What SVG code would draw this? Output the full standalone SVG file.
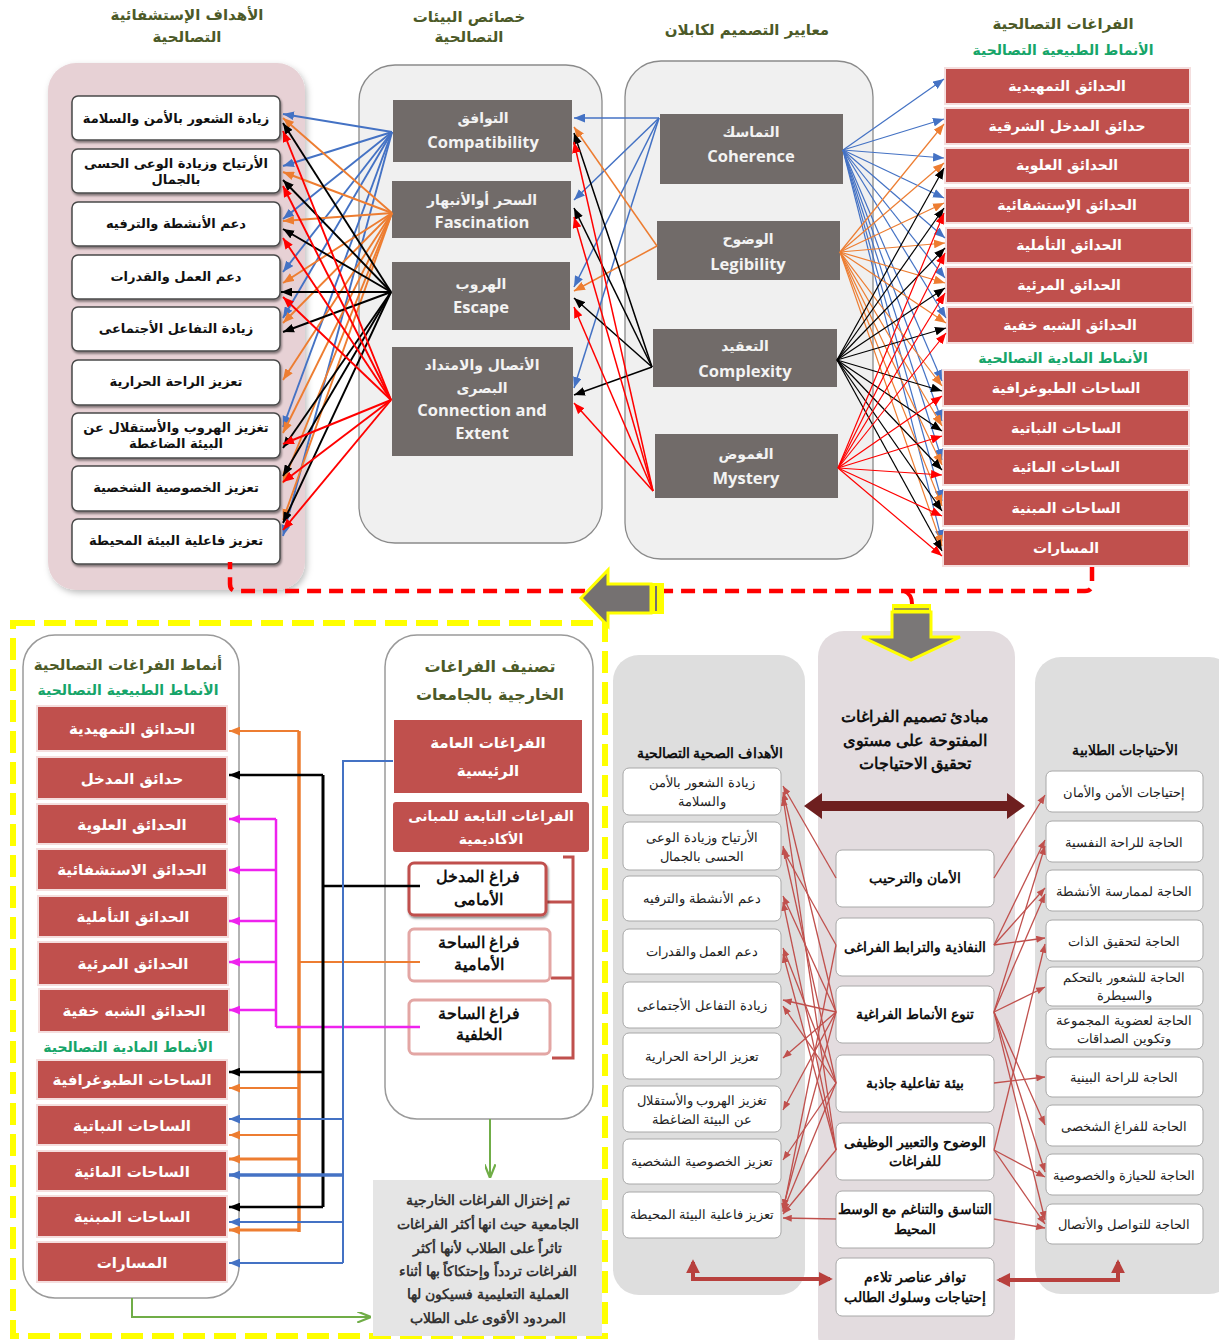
<svg xmlns="http://www.w3.org/2000/svg" width="1219" height="1340" viewBox="0 0 1219 1340">
<defs>
<style>
text{font-family:"DejaVu Sans",sans-serif;text-anchor:middle}
.hdr{font-size:14px;font-weight:bold;fill:#4c5a28}
.grn{font-size:14px;font-weight:bold;fill:#16a569}
.c1box{fill:#fff;stroke:#4a4a4a;stroke-width:1.5}
.c1t{font-size:13px;font-weight:bold;fill:#111}
.gbox{fill:#716b69}
.ga{font-size:14px;font-weight:bold;fill:#f3f3f3}
.ge{font-family:"Open Sans",sans-serif;font-size:16.5px;font-weight:bold;fill:#f3f3f3}
.rbox{fill:#c0504d;stroke:#f4dede;stroke-width:2}
.rt{font-size:14px;font-weight:bold;fill:#fff}
.rt2{font-size:15px;font-weight:bold;fill:#fff}
.wbox{fill:#fff;stroke:#a8a8a8;stroke-width:1}
.wt{font-family:"Liberation Sans",sans-serif;font-size:13px;fill:#222}
.wtb{font-family:"Liberation Sans",sans-serif;font-size:13.5px;font-weight:bold;fill:#111}
.bt{font-family:"Liberation Sans",sans-serif;font-size:15.5px;font-weight:bold;fill:#111}
.lb{stroke:#4472c4;marker-end:url(#ab)}
.lo{stroke:#ed7d31;marker-end:url(#ao)}
.lk{stroke:#000;marker-end:url(#ak)}
.lr{stroke:#ff0000;marker-end:url(#ar)}
.t1 line{stroke-width:1.9}
.t2 line{stroke-width:1.5}
.t3 line{stroke-width:1.2}
.br line{stroke:#c0504d;stroke-width:1.3;marker-end:url(#adr)}
</style>
<marker id="ab" viewBox="0 0 10 8" refX="10" refY="4" markerWidth="11" markerHeight="9" markerUnits="userSpaceOnUse" orient="auto"><path d="M0,0 L10,4 L0,8 z" fill="#4472c4"/></marker>
<marker id="ao" viewBox="0 0 10 8" refX="10" refY="4" markerWidth="11" markerHeight="9" markerUnits="userSpaceOnUse" orient="auto"><path d="M0,0 L10,4 L0,8 z" fill="#ed7d31"/></marker>
<marker id="ak" viewBox="0 0 10 8" refX="10" refY="4" markerWidth="11" markerHeight="9" markerUnits="userSpaceOnUse" orient="auto"><path d="M0,0 L10,4 L0,8 z" fill="#000"/></marker>
<marker id="ar" viewBox="0 0 10 8" refX="10" refY="4" markerWidth="11" markerHeight="9" markerUnits="userSpaceOnUse" orient="auto"><path d="M0,0 L10,4 L0,8 z" fill="#ff0000"/></marker>
<marker id="am" viewBox="0 0 10 8" refX="10" refY="4" markerWidth="11" markerHeight="9" markerUnits="userSpaceOnUse" orient="auto"><path d="M0,0 L10,4 L0,8 z" fill="#ee22ee"/></marker>
<marker id="ag" viewBox="0 0 10 8" refX="10" refY="4" markerWidth="14" markerHeight="11" markerUnits="userSpaceOnUse" orient="auto"><path d="M0,0 L10,4 L0,8" fill="none" stroke="#70ad47" stroke-width="1.6"/></marker>
<marker id="adr" viewBox="0 0 10 8" refX="10" refY="4" markerWidth="9" markerHeight="7" markerUnits="userSpaceOnUse" orient="auto"><path d="M0,0 L10,4 L0,8 z" fill="#c0504d"/></marker>
<marker id="abig" viewBox="0 0 10 10" refX="8" refY="5" markerWidth="14" markerHeight="14" markerUnits="userSpaceOnUse" orient="auto-start-reverse"><path d="M0,0 L10,5 L0,10 z" fill="#b8403d"/></marker>
<filter id="sh" x="-10%" y="-10%" width="120%" height="130%"><feDropShadow dx="1" dy="2" stdDeviation="1" flood-color="#000" flood-opacity="0.45"/></filter>
<filter id="sh2" x="-10%" y="-10%" width="120%" height="120%"><feDropShadow dx="2" dy="3" stdDeviation="3" flood-color="#000" flood-opacity="0.25"/></filter>
</defs>
<rect width="1219" height="1340" fill="#fff"/>

<!-- ================= TOP SECTION ================= -->
<g id="col1">
<text class="hdr" x="187" y="20" style="font-size:15px">الأهداف الإستشفائية</text>
<text class="hdr" x="187" y="42" style="font-size:15px">التصالحية</text>
<rect x="48" y="63" width="257" height="527" rx="28" fill="#e7d1d5" filter="url(#sh2)"/>
</g>
<g id="g1-1"><rect class="c1box" x="72" y="96" width="208" height="44" rx="6" filter="url(#sh)"/><text class="c1t" x="176" y="123">زيادة الشعور بالأمن والسلامة</text></g>
<g id="g1-2"><rect class="c1box" x="72" y="149" width="208" height="44" rx="6" filter="url(#sh)"/><text class="c1t" x="176" y="168">الأرتياح وزيادة الوعى الحسى</text><text class="c1t" x="176" y="184">بالجمال</text></g>
<g id="g1-3"><rect class="c1box" x="72" y="202" width="208" height="44" rx="6" filter="url(#sh)"/><text class="c1t" x="176" y="228">دعم الأنشطة والترفيه</text></g>
<g id="g1-4"><rect class="c1box" x="72" y="255" width="208" height="44" rx="6" filter="url(#sh)"/><text class="c1t" x="176" y="281">دعم العمل والقدرات</text></g>
<g id="g1-5"><rect class="c1box" x="72" y="307" width="208" height="44" rx="6" filter="url(#sh)"/><text class="c1t" x="176" y="333">زيادة التفاعل الأجتماعى</text></g>
<g id="g1-6"><rect class="c1box" x="72" y="360" width="208" height="45" rx="6" filter="url(#sh)"/><text class="c1t" x="176" y="386">تعزيز الراحة الحرارية</text></g>
<g id="g1-7"><rect class="c1box" x="72" y="413" width="208" height="45" rx="6" filter="url(#sh)"/><text class="c1t" x="176" y="432">تغزيز الهروب والأستقلال عن</text><text class="c1t" x="176" y="448">البيئة الضاغطة</text></g>
<g id="g1-8"><rect class="c1box" x="72" y="466" width="208" height="45" rx="6" filter="url(#sh)"/><text class="c1t" x="176" y="492">تعزيز الخصوصية الشخصية</text></g>
<g id="g1-9"><rect class="c1box" x="72" y="519" width="208" height="45" rx="6" filter="url(#sh)"/><text class="c1t" x="176" y="545">تعزيز فاعلية البيئة المحيطة</text></g>

<g id="col2">
<text class="hdr" x="469" y="22" style="font-size:15px">خصائص البيئات</text>
<text class="hdr" x="469" y="42" style="font-size:15px">التصالحية</text>
<rect x="359" y="65" width="243" height="478" rx="36" fill="#f0f0f0" stroke="#8a8a8a" stroke-width="1.3"/>
</g>
<g id="g2-1"><rect class="gbox" x="393" y="100" width="179" height="62"/><text class="ga" x="483" y="123">التوافق</text><text class="ge" x="483" y="148">Compatibility</text></g>
<g id="g2-2"><rect class="gbox" x="392" y="181" width="179" height="57"/><text class="ga" x="482" y="205">السحر أوالأنبهار</text><text class="ge" x="482" y="228">Fascination</text></g>
<g id="g2-3"><rect class="gbox" x="392" y="262" width="178" height="68"/><text class="ga" x="481" y="289">الهروب</text><text class="ge" x="481" y="313">Escape</text></g>
<g id="g2-4"><rect class="gbox" x="392" y="347" width="181" height="109"/><text class="ga" x="482" y="370">الأتصال والامتداد</text><text class="ga" x="482" y="393">البصرى</text><text class="ge" x="482" y="416">Connection and</text><text class="ge" x="482" y="439">Extent</text></g>

<g id="col3">
<text class="hdr" x="747" y="35" style="font-size:15px">معايير التصميم لكابلان</text>
<rect x="625" y="61" width="248" height="498" rx="36" fill="#f0f0f0" stroke="#8a8a8a" stroke-width="1.3"/>
</g>
<g id="g3-1"><rect class="gbox" x="660" y="114" width="183" height="70"/><text class="ga" x="751" y="137">التماسك</text><text class="ge" x="751" y="162">Coherence</text></g>
<g id="g3-2"><rect class="gbox" x="657" y="221" width="183" height="59"/><text class="ga" x="748" y="244">الوضوح</text><text class="ge" x="748" y="270">Legibility</text></g>
<g id="g3-3"><rect class="gbox" x="653" y="329" width="184" height="58"/><text class="ga" x="745" y="351">التعقيد</text><text class="ge" x="745" y="377">Complexity</text></g>
<g id="g3-4"><rect class="gbox" x="655" y="434" width="183" height="64"/><text class="ga" x="746" y="459">الغموض</text><text class="ge" x="746" y="484">Mystery</text></g>

<g id="col4">
<text class="hdr" x="1063" y="29" style="font-size:15px">الفراغات التصالحية</text>
<text class="grn" x="1063" y="55">الأنماط الطبيعية التصالحية</text>
<text class="grn" x="1063" y="363">الأنماط المادية التصالحية</text>
</g>
<g id="g4-1"><rect class="rbox" x="945" y="68" width="245" height="36"/><text class="rt" x="1067" y="91">الحدائق التمهيدية</text></g>
<g id="g4-2"><rect class="rbox" x="945" y="108" width="245" height="36"/><text class="rt" x="1067" y="131">حدائق المدخل الشرقية</text></g>
<g id="g4-3"><rect class="rbox" x="945" y="148" width="245" height="35"/><text class="rt" x="1067" y="170">الحدائق العلوية</text></g>
<g id="g4-4"><rect class="rbox" x="945" y="188" width="245" height="35"/><text class="rt" x="1067" y="210">الحدائق الإستشفائية</text></g>
<g id="g4-5"><rect class="rbox" x="946" y="228" width="246" height="35"/><text class="rt" x="1069" y="250">الحدائق التأملية</text></g>
<g id="g4-6"><rect class="rbox" x="946" y="267" width="246" height="36"/><text class="rt" x="1069" y="290">الحدائق المرئية</text></g>
<g id="g4-7"><rect class="rbox" x="947" y="307" width="246" height="36"/><text class="rt" x="1070" y="330">الحدائق الشبه خفية</text></g>
<g id="g4-8"><rect class="rbox" x="943" y="370" width="246" height="36"/><text class="rt" x="1066" y="393">الساحات الطبوغرافية</text></g>
<g id="g4-9"><rect class="rbox" x="943" y="410" width="246" height="36"/><text class="rt" x="1066" y="433">الساحات النباتية</text></g>
<g id="g4-10"><rect class="rbox" x="943" y="449" width="246" height="36"/><text class="rt" x="1066" y="472">الساحات المائية</text></g>
<g id="g4-11"><rect class="rbox" x="943" y="490" width="246" height="36"/><text class="rt" x="1066" y="513">الساحات المبنية</text></g>
<g id="g4-12"><rect class="rbox" x="943" y="530" width="246" height="36"/><text class="rt" x="1066" y="553">المسارات</text></g>

<g id="connectors-top">
<g class="t1">
<line class="lb" x1="392" y1="132" x2="283" y2="114"/>
<line class="lb" x1="392" y1="132" x2="283" y2="166"/>
<line class="lb" x1="392" y1="132" x2="283" y2="219"/>
<line class="lb" x1="392" y1="132" x2="283" y2="272"/>
<line class="lb" x1="392" y1="132" x2="283" y2="318"/>
<line class="lb" x1="392" y1="132" x2="283" y2="427"/>
<line class="lb" x1="392" y1="132" x2="283" y2="536"/>
<line class="lo" x1="392" y1="213" x2="283" y2="118"/>
<line class="lo" x1="392" y1="213" x2="283" y2="172"/>
<line class="lo" x1="392" y1="213" x2="283" y2="221"/>
<line class="lo" x1="392" y1="213" x2="283" y2="283"/>
<line class="lo" x1="392" y1="213" x2="283" y2="323"/>
<line class="lo" x1="392" y1="213" x2="283" y2="380"/>
<line class="lo" x1="392" y1="213" x2="283" y2="433"/>
<line class="lo" x1="392" y1="213" x2="283" y2="483"/>
<line class="lo" x1="392" y1="213" x2="283" y2="520"/>
<line class="lk" x1="391" y1="292" x2="283" y2="123"/>
<line class="lk" x1="391" y1="292" x2="283" y2="180"/>
<line class="lk" x1="391" y1="292" x2="283" y2="229"/>
<line class="lk" x1="391" y1="292" x2="281" y2="292"/>
<line class="lk" x1="391" y1="292" x2="283" y2="332"/>
<line class="lk" x1="391" y1="292" x2="283" y2="448"/>
<line class="lk" x1="391" y1="292" x2="283" y2="476"/>
<line class="lk" x1="391" y1="292" x2="283" y2="523"/>
<line class="lr" x1="391" y1="400" x2="283" y2="131"/>
<line class="lr" x1="391" y1="400" x2="283" y2="186"/>
<line class="lr" x1="391" y1="400" x2="283" y2="238"/>
<line class="lr" x1="391" y1="400" x2="283" y2="297"/>
<line class="lr" x1="391" y1="400" x2="283" y2="444"/>
<line class="lr" x1="391" y1="400" x2="283" y2="482"/>
<line class="lr" x1="391" y1="400" x2="283" y2="530"/>
</g>
<g class="t2">
<line class="lb" x1="659" y1="118" x2="574" y2="118"/>
<line class="lb" x1="659" y1="118" x2="574" y2="200"/>
<line class="lb" x1="659" y1="118" x2="574" y2="287"/>
<line class="lb" x1="659" y1="118" x2="574" y2="388"/>
<line class="lo" x1="657" y1="246" x2="574" y2="127"/>
<line class="lo" x1="657" y1="246" x2="574" y2="291"/>
<line class="lk" x1="652" y1="367" x2="574" y2="133"/>
<line class="lk" x1="652" y1="367" x2="574" y2="208"/>
<line class="lk" x1="652" y1="367" x2="574" y2="298"/>
<line class="lk" x1="652" y1="367" x2="574" y2="395"/>
<line class="lr" x1="653" y1="491" x2="574" y2="142"/>
<line class="lr" x1="653" y1="491" x2="574" y2="217"/>
<line class="lr" x1="653" y1="491" x2="574" y2="307"/>
<line class="lr" x1="653" y1="491" x2="574" y2="403"/>
</g>
<g class="t3">
<line class="lb" x1="843" y1="150" x2="944" y2="79"/>
<line class="lb" x1="843" y1="150" x2="944" y2="119"/>
<line class="lb" x1="843" y1="150" x2="944" y2="158"/>
<line class="lb" x1="843" y1="150" x2="944" y2="198"/>
<line class="lb" x1="843" y1="150" x2="945" y2="238"/>
<line class="lb" x1="843" y1="150" x2="945" y2="278"/>
<line class="lb" x1="843" y1="150" x2="946" y2="318"/>
<line class="lb" x1="843" y1="150" x2="942" y2="381"/>
<line class="lb" x1="843" y1="150" x2="942" y2="421"/>
<line class="lb" x1="843" y1="150" x2="942" y2="460"/>
<line class="lb" x1="843" y1="150" x2="942" y2="501"/>
<line class="lb" x1="843" y1="150" x2="942" y2="541"/>
<line class="lo" x1="840" y1="252" x2="944" y2="124"/>
<line class="lo" x1="840" y1="252" x2="944" y2="163"/>
<line class="lo" x1="840" y1="252" x2="944" y2="203"/>
<line class="lo" x1="840" y1="252" x2="945" y2="243"/>
<line class="lo" x1="840" y1="252" x2="945" y2="283"/>
<line class="lo" x1="840" y1="252" x2="946" y2="323"/>
<line class="lo" x1="840" y1="252" x2="942" y2="386"/>
<line class="lo" x1="840" y1="252" x2="942" y2="426"/>
<line class="lo" x1="840" y1="252" x2="942" y2="465"/>
<line class="lo" x1="840" y1="252" x2="942" y2="506"/>
<line class="lo" x1="840" y1="252" x2="942" y2="546"/>
<line class="lk" x1="837" y1="360" x2="944" y2="168"/>
<line class="lk" x1="837" y1="360" x2="944" y2="208"/>
<line class="lk" x1="837" y1="360" x2="945" y2="248"/>
<line class="lk" x1="837" y1="360" x2="945" y2="288"/>
<line class="lk" x1="837" y1="360" x2="946" y2="328"/>
<line class="lk" x1="837" y1="360" x2="942" y2="391"/>
<line class="lk" x1="837" y1="360" x2="942" y2="431"/>
<line class="lk" x1="837" y1="360" x2="942" y2="470"/>
<line class="lk" x1="837" y1="360" x2="942" y2="511"/>
<line class="lk" x1="837" y1="360" x2="942" y2="551"/>
<line class="lr" x1="838" y1="468" x2="944" y2="213"/>
<line class="lr" x1="838" y1="468" x2="945" y2="253"/>
<line class="lr" x1="838" y1="468" x2="945" y2="293"/>
<line class="lr" x1="838" y1="468" x2="946" y2="333"/>
<line class="lr" x1="838" y1="468" x2="942" y2="396"/>
<line class="lr" x1="838" y1="468" x2="942" y2="436"/>
<line class="lr" x1="838" y1="468" x2="942" y2="475"/>
<line class="lr" x1="838" y1="468" x2="942" y2="516"/>
<line class="lr" x1="838" y1="468" x2="942" y2="556"/>
</g>
</g>

<!-- ================ BOTTOM LEFT ================ -->
<rect id="yellow-frame" x="13" y="623" width="592" height="713" fill="none" stroke="#ffff00" stroke-width="6" stroke-dasharray="22 9"/>
<g id="colA">
<rect x="23" y="635" width="216" height="663" rx="32" fill="#fff" stroke="#9a9a9a" stroke-width="1.5"/>
<text class="hdr" x="128" y="670" style="font-size:15px">أنماط الفراغات التصالحية</text>
<text class="grn" x="128" y="695">الأنماط الطبيعية التصالحية</text>
<text class="grn" x="128" y="1052">الأنماط المادية التصالحية</text>
</g>
<g id="a1"><rect class="rbox" x="37" y="706" width="190" height="45"/><text class="rt2" x="132" y="734">الحدائق التمهيدية</text></g>
<g id="a2"><rect class="rbox" x="37" y="757" width="190" height="42"/><text class="rt2" x="132" y="784">حدائق المدخل</text></g>
<g id="a3"><rect class="rbox" x="37" y="804" width="190" height="40"/><text class="rt2" x="132" y="830">الحدائق العلوية</text></g>
<g id="a4"><rect class="rbox" x="37" y="849" width="190" height="41"/><text class="rt2" x="132" y="875">الحدائق الاستشفائية</text></g>
<g id="a5"><rect class="rbox" x="38" y="896" width="190" height="41"/><text class="rt2" x="133" y="922">الحدائق التأملية</text></g>
<g id="a6"><rect class="rbox" x="38" y="942" width="190" height="43"/><text class="rt2" x="133" y="969">الحدائق المرئية</text></g>
<g id="a7"><rect class="rbox" x="39" y="989" width="190" height="43"/><text class="rt2" x="134" y="1016">الحدائق الشبه خفية</text></g>
<g id="a8"><rect class="rbox" x="37" y="1060" width="190" height="39"/><text class="rt2" x="132" y="1085">الساحات الطبوغرافية</text></g>
<g id="a9"><rect class="rbox" x="37" y="1105" width="190" height="40"/><text class="rt2" x="132" y="1131">الساحات النباتية</text></g>
<g id="a10"><rect class="rbox" x="37" y="1151" width="190" height="40"/><text class="rt2" x="132" y="1177">الساحات المائية</text></g>
<g id="a11"><rect class="rbox" x="37" y="1196" width="190" height="41"/><text class="rt2" x="132" y="1222">الساحات المبنية</text></g>
<g id="a12"><rect class="rbox" x="37" y="1242" width="190" height="40"/><text class="rt2" x="132" y="1268">المسارات</text></g>

<g id="colB">
<rect x="385" y="635" width="208" height="484" rx="32" fill="#fff" stroke="#9a9a9a" stroke-width="1.5"/>
<text class="hdr" x="490" y="672" style="font-size:16px">تصنيف الفراغات</text>
<text class="hdr" x="490" y="700" style="font-size:16px">الخارجية بالجامعات</text>
<path d="M563,857 L573,857 L573,1058 L552,1058 M546,902 L573,902 M551,978 L573,978" fill="none" stroke="#c0504d" stroke-width="3"/>
</g>
<g id="b1"><rect x="394" y="720" width="188" height="73" fill="#c0504d"/><text class="rt2" x="488" y="748">الفراغات العامة</text><text class="rt2" x="488" y="776">الرئيسية</text></g>
<g id="b2"><rect x="393" y="802" width="196" height="50" rx="3" fill="#c0504d"/><text class="rt" x="491" y="821">الفراغات التابعة للمبانى</text><text class="rt" x="491" y="844">الأكاديمية</text></g>
<g id="b3"><rect x="409" y="863" width="137" height="52" rx="5" fill="#fff" stroke="#c0504d" stroke-width="3" filter="url(#sh)"/><text class="bt" x="478" y="882">فراغ المدخل</text><text class="bt" x="478" y="905">الأمامى</text></g>
<g id="b4"><rect x="409" y="929" width="141" height="52" rx="5" fill="#fff" stroke="#e3a6a4" stroke-width="3"/><text class="bt" x="479" y="948">فراغ الساحة</text><text class="bt" x="479" y="970">الأمامية</text></g>
<g id="b5"><rect x="409" y="1000" width="141" height="54" rx="5" fill="#fff" stroke="#e3a6a4" stroke-width="3"/><text class="bt" x="479" y="1019">فراغ الساحة</text><text class="bt" x="479" y="1040">الخلفية</text></g>
<g id="note"><rect x="373" y="1180" width="229" height="156" fill="#e5e5e5"/>
<text class="wtb" x="488" y="1205" style="fill:#333">تم إختزال الفراغات الخارجية</text>
<text class="wtb" x="488" y="1229" style="fill:#333">الجامعية حيث انها أكثر الفراغات</text>
<text class="wtb" x="488" y="1253" style="fill:#333">تاثراً على الطلاب لأنها أكثر</text>
<text class="wtb" x="488" y="1276" style="fill:#333">الفراغات تردداً وإحتكاكاً بها أثناء</text>
<text class="wtb" x="488" y="1299" style="fill:#333">العملية التعليمية فسيكون لها</text>
<text class="wtb" x="488" y="1323" style="fill:#333">المردود الأقوى على الطلاب</text>
</g>

<g id="connectors-bottom-left" fill="none">
<line x1="299" y1="731" x2="299" y2="1232" stroke="#ed7d31" stroke-width="3.5"/>
<line x1="299" y1="731" x2="229" y2="731" stroke="#ed7d31" stroke-width="2" marker-end="url(#ao)"/>
<line x1="299" y1="1088" x2="229" y2="1088" stroke="#ed7d31" stroke-width="2" marker-end="url(#ao)"/>
<line x1="299" y1="1135" x2="229" y2="1135" stroke="#ed7d31" stroke-width="2" marker-end="url(#ao)"/>
<line x1="299" y1="1159" x2="229" y2="1159" stroke="#ed7d31" stroke-width="3" marker-end="url(#ao)"/>
<line x1="299" y1="1230" x2="229" y2="1230" stroke="#ed7d31" stroke-width="3" marker-end="url(#ao)"/>
<line x1="299" y1="962" x2="420" y2="962" stroke="#ed7d31" stroke-width="2"/>
<line x1="276" y1="819" x2="276" y2="1027" stroke="#ee22ee" stroke-width="2.5"/>
<line x1="276" y1="819" x2="229" y2="819" stroke="#ee22ee" stroke-width="2.5" marker-end="url(#am)"/>
<line x1="276" y1="870" x2="229" y2="870" stroke="#ee22ee" stroke-width="2.5" marker-end="url(#am)"/>
<line x1="276" y1="921" x2="229" y2="921" stroke="#ee22ee" stroke-width="2.5" marker-end="url(#am)"/>
<line x1="276" y1="962" x2="229" y2="962" stroke="#ee22ee" stroke-width="2.5" marker-end="url(#am)"/>
<line x1="276" y1="1010" x2="229" y2="1010" stroke="#ee22ee" stroke-width="2.5" marker-end="url(#am)"/>
<line x1="276" y1="1027" x2="420" y2="1027" stroke="#ee22ee" stroke-width="2.5"/>
<line x1="323" y1="775" x2="323" y2="1207" stroke="#000" stroke-width="3"/>
<line x1="323" y1="775" x2="229" y2="775" stroke="#000" stroke-width="2.5" marker-end="url(#ak)"/>
<line x1="323" y1="1072" x2="229" y2="1072" stroke="#000" stroke-width="2.5" marker-end="url(#ak)"/>
<line x1="323" y1="1207" x2="229" y2="1207" stroke="#000" stroke-width="2.5" marker-end="url(#ak)"/>
<line x1="323" y1="886" x2="420" y2="886" stroke="#000" stroke-width="2.5"/>
<path d="M393,761 L343,761 L343,1263" stroke="#4472c4" stroke-width="2"/>
<line x1="343" y1="1119" x2="229" y2="1119" stroke="#4472c4" stroke-width="2" marker-end="url(#ab)"/>
<line x1="343" y1="1175" x2="229" y2="1175" stroke="#4472c4" stroke-width="3.5" marker-end="url(#ab)"/>
<line x1="343" y1="1222" x2="229" y2="1222" stroke="#4472c4" stroke-width="2" marker-end="url(#ab)"/>
<line x1="343" y1="1263" x2="229" y2="1263" stroke="#4472c4" stroke-width="2" marker-end="url(#ab)"/>
<line x1="490" y1="1119" x2="490" y2="1178" stroke="#70ad47" stroke-width="2" marker-end="url(#ag)"/>
<path d="M132,1298 L132,1317 L371,1317" stroke="#70ad47" stroke-width="2" marker-end="url(#ag)"/>
</g>

<!-- ================ BOTTOM RIGHT ================ -->
<g id="panel-goals"><rect x="613" y="655" width="192" height="640" rx="26" fill="#dedede"/>
<text class="wtb" x="710" y="758" style="font-size:14px">الأهداف الصحية التصالحية</text></g>
<g id="panel-principles"><rect x="818" y="631" width="197" height="730" rx="26" fill="#e3dcdf"/>
<text class="wtb" x="915" y="722" style="font-size:16px">مبادئ تصميم الفراغات</text>
<text class="wtb" x="915" y="746" style="font-size:16px">المفتوحة على مستوى</text>
<text class="wtb" x="915" y="769" style="font-size:16px">تحقيق الاحتياجات</text></g>
<g id="panel-needs"><rect x="1035" y="657" width="200" height="637" rx="26" fill="#dedede"/>
<text class="wtb" x="1125" y="755" style="font-size:14px">الأحتياجات الطلابية</text></g>

<g id="bigarrow"><polygon points="804,806 822,793 822,801 1007,801 1007,793 1025,806 1007,819 1007,811 822,811 822,819" fill="#6e1f1f"/></g>

<g id="l1"><rect class="wbox" x="623" y="768" width="158" height="47" rx="6"/><text class="wt" x="702" y="787">زيادة الشعور بالأمن</text><text class="wt" x="702" y="806">والسلامة</text></g>
<g id="l2"><rect class="wbox" x="623" y="822" width="158" height="48" rx="6"/><text class="wt" x="702" y="842">الأرتياح وزيادة الوعى</text><text class="wt" x="702" y="861">الحسى بالجمال</text></g>
<g id="l3"><rect class="wbox" x="623" y="876" width="158" height="45" rx="6"/><text class="wt" x="702" y="903">دعم الأنشطة والترفيه</text></g>
<g id="l4"><rect class="wbox" x="623" y="929" width="158" height="45" rx="6"/><text class="wt" x="702" y="956">دعم العمل والقدرات</text></g>
<g id="l5"><rect class="wbox" x="623" y="982" width="158" height="46" rx="6"/><text class="wt" x="702" y="1010">زيادة التفاعل الأجتماعى</text></g>
<g id="l6"><rect class="wbox" x="623" y="1033" width="158" height="46" rx="6"/><text class="wt" x="702" y="1061">تعزيز الراحة الحرارية</text></g>
<g id="l7"><rect class="wbox" x="623" y="1086" width="158" height="46" rx="6"/><text class="wt" x="702" y="1105">تغزيز الهروب والأستقلال</text><text class="wt" x="702" y="1124">عن البيئة الضاغطة</text></g>
<g id="l8"><rect class="wbox" x="623" y="1139" width="158" height="45" rx="6"/><text class="wt" x="702" y="1166">تعزيز الخصوصية الشخصية</text></g>
<g id="l9"><rect class="wbox" x="623" y="1192" width="158" height="46" rx="6"/><text class="wt" x="702" y="1219">تعزيز فاعلية البيئة المحيطة</text></g>

<g id="m1"><rect class="wbox" x="836" y="850" width="158" height="57" rx="6"/><text class="wtb" x="915" y="883">الأمان والترحيب</text></g>
<g id="m2"><rect class="wbox" x="836" y="918" width="158" height="58" rx="6"/><text class="wtb" x="915" y="952">النفاذية والترابط الفراغى</text></g>
<g id="m3"><rect class="wbox" x="836" y="986" width="158" height="57" rx="6"/><text class="wtb" x="915" y="1019">تنوع الأنماط الفراغية</text></g>
<g id="m4"><rect class="wbox" x="836" y="1055" width="158" height="57" rx="6"/><text class="wtb" x="915" y="1088">بيئة تفاعلية جاذبة</text></g>
<g id="m5"><rect class="wbox" x="836" y="1123" width="158" height="57" rx="6"/><text class="wtb" x="915" y="1147">الوضوح والتعبير الوظيفى</text><text class="wtb" x="915" y="1166">للفراغات</text></g>
<g id="m6"><rect class="wbox" x="836" y="1191" width="158" height="57" rx="6"/><text class="wtb" x="915" y="1214">التناسق والتناغم مع الوسط</text><text class="wtb" x="915" y="1234">المحيط</text></g>
<g id="m7"><rect class="wbox" x="836" y="1258" width="158" height="58" rx="6"/><text class="wtb" x="915" y="1282">توافر عناصر تلاءم</text><text class="wtb" x="915" y="1302">إحتياجات وسلوك الطالب</text></g>

<g id="n1"><rect class="wbox" x="1046" y="771" width="157" height="41" rx="6"/><text class="wt" x="1124" y="797">إحتياجات الأمن والأمان</text></g>
<g id="n2"><rect class="wbox" x="1046" y="821" width="157" height="41" rx="6"/><text class="wt" x="1124" y="847">الحاجة للراحة النفسية</text></g>
<g id="n3"><rect class="wbox" x="1046" y="870" width="157" height="41" rx="6"/><text class="wt" x="1124" y="896">الحاجة لممارسة الأنشطة</text></g>
<g id="n4"><rect class="wbox" x="1046" y="920" width="157" height="41" rx="6"/><text class="wt" x="1124" y="946">الحاجة لتحقيق الذات</text></g>
<g id="n5"><rect class="wbox" x="1046" y="967" width="157" height="39" rx="6"/><text class="wt" x="1124" y="982">الحاجة للشعور بالتحكم</text><text class="wt" x="1124" y="1000">والسيطرة</text></g>
<g id="n6"><rect class="wbox" x="1046" y="1009" width="157" height="40" rx="6"/><text class="wt" x="1124" y="1025">الحاجة لعضوية المجموعة</text><text class="wt" x="1124" y="1043">وتكوين الصداقات</text></g>
<g id="n7"><rect class="wbox" x="1046" y="1057" width="157" height="40" rx="6"/><text class="wt" x="1124" y="1082">الحاجة للراحة البينية</text></g>
<g id="n8"><rect class="wbox" x="1046" y="1105" width="157" height="41" rx="6"/><text class="wt" x="1124" y="1131">الحاجة للفراغ الشخصى</text></g>
<g id="n9"><rect class="wbox" x="1046" y="1154" width="157" height="41" rx="6"/><text class="wt" x="1124" y="1180">الحاجة للحيازة والخصوصية</text></g>
<g id="n10"><rect class="wbox" x="1046" y="1204" width="157" height="40" rx="6"/><text class="wt" x="1124" y="1229">الحاجة للتواصل والأتصال</text></g>

<g id="connectors-bottom-right" class="br">
<line x1="836" y1="878" x2="783" y2="786"/>
<line x1="836" y1="1012" x2="783" y2="792"/>
<line x1="836" y1="1150" x2="783" y2="797"/>
<line x1="836" y1="945" x2="783" y2="850"/>
<line x1="836" y1="1083" x2="783" y2="846"/>
<line x1="836" y1="1012" x2="783" y2="896"/>
<line x1="836" y1="1150" x2="783" y2="902"/>
<line x1="836" y1="1083" x2="783" y2="948"/>
<line x1="836" y1="1150" x2="783" y2="954"/>
<line x1="836" y1="1012" x2="783" y2="1000"/>
<line x1="836" y1="1083" x2="783" y2="1006"/>
<line x1="836" y1="1012" x2="783" y2="1058"/>
<line x1="836" y1="1012" x2="783" y2="1110"/>
<line x1="836" y1="1083" x2="783" y2="1160"/>
<line x1="836" y1="1012" x2="783" y2="1208"/>
<line x1="836" y1="1083" x2="783" y2="1211"/>
<line x1="836" y1="1150" x2="783" y2="1214"/>
<line x1="836" y1="1219" x2="783" y2="1218"/>
<line x1="836" y1="945" x2="783" y2="1212"/>
<line x1="994" y1="878" x2="1045" y2="795"/>
<line x1="994" y1="945" x2="1045" y2="840"/>
<line x1="994" y1="1012" x2="1045" y2="846"/>
<line x1="994" y1="945" x2="1045" y2="888"/>
<line x1="994" y1="1012" x2="1045" y2="894"/>
<line x1="994" y1="945" x2="1045" y2="938"/>
<line x1="994" y1="1150" x2="1045" y2="944"/>
<line x1="994" y1="1012" x2="1045" y2="987"/>
<line x1="994" y1="1083" x2="1045" y2="1077"/>
<line x1="994" y1="1012" x2="1045" y2="1125"/>
<line x1="994" y1="1012" x2="1045" y2="1172"/>
<line x1="994" y1="1150" x2="1045" y2="1177"/>
<line x1="994" y1="1012" x2="1045" y2="1220"/>
<line x1="994" y1="1150" x2="1045" y2="1224"/>
<line x1="994" y1="1219" x2="1045" y2="1228"/>
</g>
<g id="connectors-feedback" fill="none" stroke="#b8403d" stroke-width="4">
<path d="M693,1262 L693,1279 L830,1279" marker-start="url(#abig)" marker-end="url(#abig)"/>
<path d="M1118,1262 L1118,1280 L999,1280" marker-start="url(#abig)" marker-end="url(#abig)"/>
</g>

<!-- ============ LINK BETWEEN SECTIONS ============ -->
<g id="link-arrows">
<path d="M1092,567 L1092,584 Q1092,591 1085,591 L237,591 Q230,591 230,584 L230,562" fill="none" stroke="#ff0000" stroke-width="4.5" stroke-dasharray="14 8"/>
<path d="M904,591 Q912,594 912,604" fill="none" stroke="#ff0000" stroke-width="4"/>
<polygon points="581,598 608,570 608,584 651,584 651,613 608,613 608,626" fill="#757171" stroke="#ffff00" stroke-width="3" stroke-linejoin="miter"/>
<rect x="652" y="583" width="12" height="31" fill="#ffff00"/>
<line x1="656" y1="586" x2="656" y2="611" stroke="#757171" stroke-width="2"/>
<rect x="892" y="604" width="39" height="8" fill="#ffff00"/>
<line x1="894" y1="609" x2="929" y2="609" stroke="#757171" stroke-width="1.5"/>
<polygon points="892,612 931,612 931,637 960,637 911,660 862,637 892,637" fill="#7a7777" stroke="#ffff00" stroke-width="3"/>
</g>
</svg>
